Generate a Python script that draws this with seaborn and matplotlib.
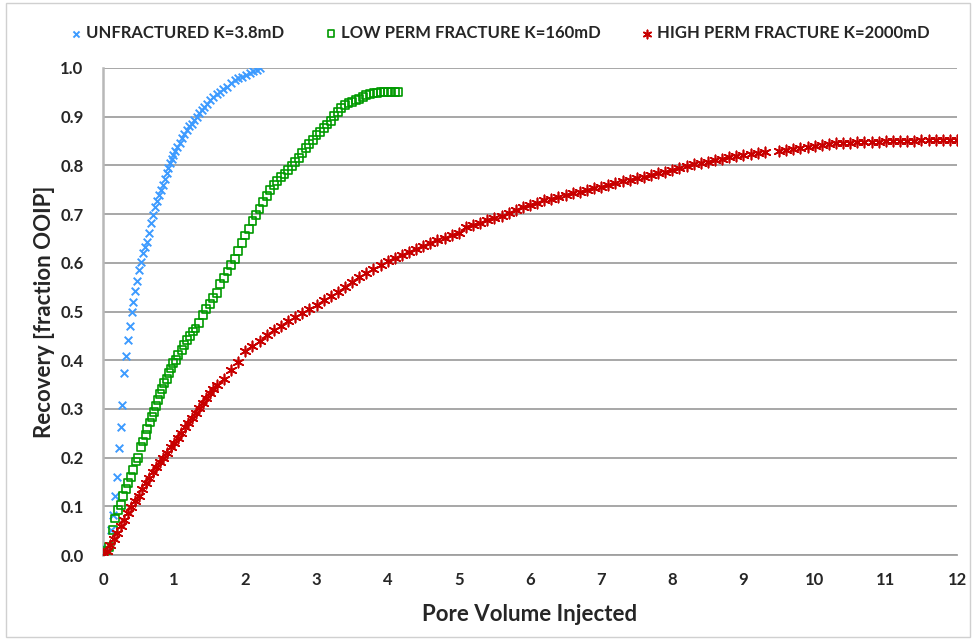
import numpy as np
import pandas as pd
import matplotlib
matplotlib.use("Agg")
import matplotlib.pyplot as plt
from matplotlib.patches import Rectangle
import seaborn as sns

# ---------------- data ----------------
unfrac_pv = [0.00, 0.04, 0.108, 0.136, 0.164, 0.192, 0.221, 0.249, 0.271, 0.299, 0.327,
             0.355, 0.379, 0.403, 0.426, 0.454, 0.482, 0.510, 0.534, 0.558, 0.586, 0.614,
             0.642, 0.670, 0.700, 0.730, 0.760, 0.791, 0.820, 0.847, 0.870, 0.894, 0.918,
             0.941, 0.965, 0.988, 1.016, 1.044, 1.075, 1.105, 1.140, 1.175, 1.210, 1.246,
             1.280, 1.316, 1.350, 1.386, 1.426, 1.466, 1.508, 1.549, 1.596, 1.643, 1.690,
             1.737, 1.795, 1.854, 1.900, 1.948, 2.005, 2.065, 2.110, 2.159, 2.200]
unfrac_rec = [0.000, 0.012, 0.051, 0.082, 0.122, 0.160, 0.220, 0.262, 0.307, 0.374, 0.409,
              0.441, 0.471, 0.499, 0.520, 0.543, 0.563, 0.585, 0.601, 0.621, 0.632, 0.643,
              0.662, 0.681, 0.698, 0.715, 0.727, 0.739, 0.750, 0.760, 0.772, 0.784, 0.794,
              0.804, 0.813, 0.821, 0.830, 0.838, 0.847, 0.856, 0.865, 0.873, 0.880, 0.886,
              0.893, 0.900, 0.907, 0.914, 0.920, 0.927, 0.934, 0.941, 0.946, 0.951, 0.957,
              0.962, 0.969, 0.975, 0.979, 0.982, 0.986, 0.990, 0.993, 0.996, 0.999]

lowperm_pv = [0.000, 0.045, 0.089, 0.136, 0.169, 0.215, 0.253, 0.285, 0.323, 0.355, 0.393,
              0.426, 0.463, 0.496, 0.529, 0.566, 0.600, 0.622, 0.660, 0.684, 0.716, 0.744,
              0.768, 0.801, 0.829, 0.861, 0.895, 0.923, 0.951, 0.979, 1.025, 1.058, 1.105,
              1.142, 1.184, 1.222, 1.268, 1.30, 1.35, 1.40, 1.45, 1.50, 1.55, 1.60, 1.65,
              1.70, 1.75, 1.80, 1.85, 1.90, 1.95, 2.00, 2.05, 2.10, 2.15, 2.20, 2.25, 2.30,
              2.35, 2.40, 2.45, 2.50, 2.55, 2.60, 2.65, 2.70, 2.75, 2.80, 2.85, 2.90, 2.95,
              3.00, 3.05, 3.10, 3.15, 3.20, 3.25, 3.30, 3.35, 3.40, 3.45, 3.50, 3.55, 3.60,
              3.65, 3.70, 3.75, 3.80, 3.85, 3.90, 3.95, 4.00, 4.05, 4.10, 4.15]
lowperm_rec = [0.000, 0.008, 0.016, 0.051, 0.075, 0.092, 0.103, 0.121, 0.135, 0.147, 0.160,
               0.175, 0.192, 0.200, 0.221, 0.233, 0.246, 0.259, 0.272, 0.283, 0.294, 0.306,
               0.318, 0.330, 0.340, 0.353, 0.361, 0.373, 0.383, 0.394, 0.400, 0.411, 0.421,
               0.431, 0.441, 0.450, 0.459, 0.465, 0.476, 0.493, 0.505, 0.516, 0.527, 0.538, 0.556,
               0.569, 0.582, 0.596, 0.608, 0.625, 0.641, 0.656, 0.670, 0.685, 0.698, 0.711, 0.725, 0.738,
               0.750, 0.759, 0.768, 0.776, 0.783, 0.790, 0.798, 0.807, 0.816, 0.826, 0.835, 0.844, 0.853,
               0.862, 0.869, 0.877, 0.884, 0.892, 0.901, 0.910, 0.918, 0.924, 0.928, 0.931, 0.934, 0.937,
               0.941, 0.945, 0.947, 0.948, 0.949, 0.950, 0.950, 0.951, 0.951, 0.951, 0.951]

highperm_pv = [0.0, 0.05, 0.1, 0.15, 0.2, 0.25, 0.3, 0.35, 0.4, 0.45, 0.5, 0.55, 0.6, 0.65,
               0.7, 0.75, 0.8, 0.85, 0.9, 0.95, 1.0, 1.05, 1.1, 1.15, 1.2, 1.25, 1.3, 1.35,
               1.4, 1.45, 1.5, 1.55,
               1.6, 1.7, 1.8, 1.9, 2.0, 2.1, 2.2, 2.3, 2.4, 2.5, 2.6, 2.7, 2.8, 2.9, 3.0, 3.1,
               3.2, 3.3, 3.4, 3.5, 3.6, 3.7, 3.8, 3.9, 4.0, 4.1, 4.2, 4.3, 4.4, 4.5, 4.6, 4.7,
               4.8, 4.9, 5.0, 5.1, 5.2, 5.3, 5.4, 5.5, 5.6, 5.7, 5.8, 5.9, 6.0, 6.1, 6.2, 6.3,
               6.4, 6.5, 6.6, 6.7, 6.8, 6.9, 7.0, 7.1, 7.2, 7.3, 7.4, 7.5, 7.6, 7.7, 7.8, 7.9,
               8.0, 8.1, 8.2, 8.3, 8.4, 8.5, 8.6, 8.7, 8.8, 8.9, 9.0, 9.1, 9.2, 9.3, 9.5, 9.6,
               9.7, 9.8, 9.9, 10.0, 10.1, 10.2, 10.3, 10.4, 10.5, 10.6, 10.7, 10.8, 10.9, 11.0,
               11.1, 11.2, 11.3, 11.4, 11.5, 11.6, 11.7, 11.8, 11.9, 12.0]
highperm_rec = [0.000, 0.008, 0.020, 0.033, 0.046, 0.059, 0.072, 0.086, 0.099, 0.111, 0.122,
                0.135, 0.147, 0.159, 0.170, 0.180, 0.190, 0.200, 0.210, 0.221, 0.231, 0.241,
                0.251, 0.262, 0.272, 0.282, 0.292, 0.302, 0.312, 0.323, 0.333, 0.341,
                0.349, 0.362, 0.379, 0.397, 0.418, 0.429,
                0.440, 0.452, 0.462, 0.471, 0.480, 0.488, 0.497, 0.506, 0.514, 0.523, 0.532,
                0.541, 0.550, 0.560, 0.570, 0.579, 0.588, 0.596, 0.604, 0.610, 0.616, 0.622,
                0.628, 0.634, 0.640, 0.646, 0.651, 0.657, 0.662, 0.673, 0.678, 0.682, 0.687,
                0.692, 0.697, 0.703, 0.709, 0.714, 0.718, 0.723, 0.728, 0.732, 0.736, 0.739,
                0.743, 0.746, 0.749, 0.753, 0.756, 0.760, 0.763, 0.767, 0.771, 0.774, 0.777,
                0.780, 0.784, 0.787, 0.790, 0.794, 0.798, 0.802, 0.805, 0.808, 0.811, 0.814,
                0.817, 0.819, 0.821, 0.823, 0.825, 0.827, 0.830, 0.832, 0.834, 0.836, 0.838,
                0.840, 0.842, 0.844, 0.846, 0.847, 0.847, 0.848, 0.848, 0.849, 0.849, 0.850,
                0.850, 0.851, 0.851, 0.851, 0.852, 0.852, 0.852, 0.852, 0.852, 0.852]

series_labels = ["UNFRACTURED K=3.8mD", "LOW PERM FRACTURE K=160mD", "HIGH PERM FRACTURE K=2000mD"]
x_ticks = list(range(0, 13))
y_ticks = [0.0, 0.1, 0.2, 0.3, 0.4, 0.5, 0.6, 0.7, 0.8, 0.9, 1.0]

# ---------------- styling ----------------
sns.set_theme(style="white")
plt.rcParams['font.family'] = ['Lato', 'DejaVu Sans']

blue = "#3d9bff"
green = "#009a00"
red = "#c80000"
grid_c = "#a0a0a0"

fig = plt.figure(figsize=(9.74, 6.40), dpi=100)
ax = fig.add_axes([103/974, 1-555/640, (957-103)/974, (555-68)/640])

sns.scatterplot(x=unfrac_pv, y=unfrac_rec, ax=ax, marker="x", s=30, color=blue,
                linewidth=1.4, label=series_labels[0], zorder=3)
sns.scatterplot(x=lowperm_pv, y=lowperm_rec, ax=ax, marker="s", s=32, facecolor="none",
                edgecolor=green, linewidth=1.2, label=series_labels[1], zorder=3)
sns.scatterplot(x=highperm_pv, y=highperm_rec, ax=ax, marker=(6, 2, 0), s=55, color=red,
                edgecolor=red, linewidth=1.2, label=series_labels[2], zorder=4)

ax.set_xlim(0, 12)
ax.set_ylim(0, 1.0)
ax.set_xticks(x_ticks)
ax.set_yticks(y_ticks)
ax.set_xticklabels([str(t) for t in x_ticks], fontsize=12, fontweight="bold")
ax.set_yticklabels([f"{t:.1f}" for t in y_ticks], fontsize=12, fontweight="bold")
ax.tick_params(axis="both", length=0, pad=14)
ax.tick_params(axis="x", pad=12)

ax.yaxis.grid(True, color=grid_c, linewidth=1.3)
ax.xaxis.grid(False)
ax.set_axisbelow(True)
for side in ["top", "right"]:
    ax.spines[side].set_visible(False)
ax.spines["left"].set_color("#b8b8b8")
ax.spines["left"].set_linewidth(1.8)
ax.spines["bottom"].set_color(grid_c)
ax.spines["bottom"].set_linewidth(1.3)

ax.set_xlabel("Pore Volume Injected", fontsize=16, fontweight="bold", labelpad=12)
ax.set_ylabel("Recovery [fraction OOIP]", fontsize=16, fontweight="bold", labelpad=4)

ax.get_legend().remove()
handles, labels = ax.get_legend_handles_labels()
fig.legend(handles, labels, loc="center", bbox_to_anchor=(0.513, 1-33/640), ncol=3,
           frameon=False, prop={"weight": "bold", "size": 12}, handletextpad=0.2,
           columnspacing=2.4, markerscale=0.8, handlelength=0.8)

fig.patches.append(Rectangle((0.006, 0.004), 0.99, 0.992, transform=fig.transFigure,
                             fill=False, edgecolor="#d0d0d0", linewidth=1.0))

fig.savefig("out.png", dpi=100)
